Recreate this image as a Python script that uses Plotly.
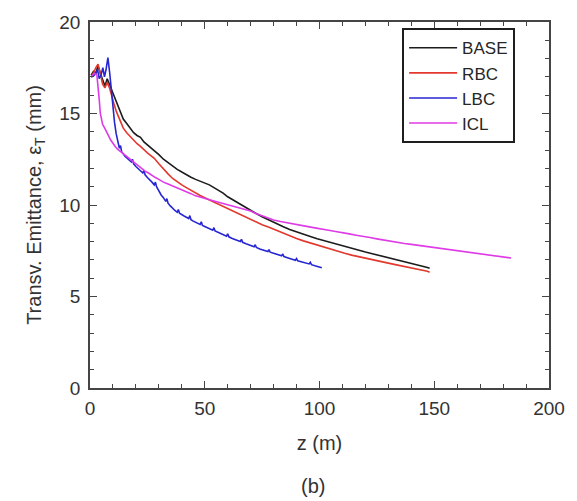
import plotly.graph_objects as go

# Transverse emittance along the line for four configurations
z_base = [0.5, 1.5, 2.5, 3.5, 4.5, 5.5, 6.5, 7.5, 8.5, 9.5,
          10.5, 11.5, 12.5, 13.5, 14.5, 16, 17.5, 19, 20.5, 22,
          23.5, 25, 26.5, 28,
          30, 32, 34, 36, 38, 40, 42, 44, 46, 48,
          50, 52, 54, 56, 58, 60,
          63, 66, 69, 72, 75, 78, 81, 84, 87, 90,
          93, 96, 99, 102, 105, 108, 111, 114, 117, 120,
          123, 126, 129, 132, 135, 138, 141, 144, 147, 148]
eps_base = [17.1, 17.3, 17.2, 17.6, 17.2, 16.8, 16.5, 16.9, 16.6, 16.2,
            16.0, 15.6, 15.3, 15.0, 14.7, 14.45, 14.2, 13.95, 13.8, 13.7,
            13.45, 13.3, 13.15, 13.0,
            12.75, 12.5, 12.3, 12.1, 11.95, 11.8, 11.65, 11.52, 11.4, 11.3,
            11.2, 11.1, 10.95, 10.8, 10.65, 10.45,
            10.22, 9.98, 9.76, 9.56, 9.36, 9.17, 8.98, 8.82, 8.66, 8.52,
            8.4, 8.28, 8.16, 8.05, 7.94, 7.83, 7.72, 7.62, 7.52, 7.43,
            7.34, 7.24, 7.14, 7.05, 6.96, 6.87, 6.78, 6.68, 6.59, 6.55]

z_rbc = [0.5, 1.5, 2.5, 3.5, 4.5, 5.5, 6.5, 7.5, 8.5, 9.5,
         10.5, 11.5, 12.5, 13.5, 14.5, 16, 17.5, 19, 20.5, 22,
         23.5, 25, 26.5, 28,
         30, 32, 34, 36, 38, 40, 42, 44, 46, 48,
         50, 52, 54, 56, 58, 60,
         63, 66, 69, 72, 75, 78, 81, 84, 87, 90,
         93, 96, 99, 102, 105, 108, 111, 114, 117, 120,
         123, 126, 129, 132, 135, 138, 141, 144, 147, 148]
eps_rbc = [17.0, 17.2, 17.5, 17.7, 17.2, 16.6, 16.4, 16.7, 16.4, 15.9,
           15.5, 15.1, 14.8, 14.5, 14.2, 13.95, 13.75, 13.5, 13.35, 13.2,
           13.0, 12.85, 12.7, 12.55,
           12.25, 11.95, 11.7, 11.45, 11.25, 11.1, 10.95, 10.8, 10.65, 10.52,
           10.4, 10.28, 10.15, 10.02, 9.9, 9.78,
           9.6, 9.42, 9.25, 9.08, 8.92, 8.78, 8.62, 8.47, 8.32, 8.17,
           8.04, 7.92, 7.8, 7.68, 7.57, 7.46, 7.36, 7.26, 7.17, 7.08,
           7.0, 6.92, 6.85, 6.77, 6.7, 6.62, 6.54, 6.45, 6.38, 6.33]

z_lbc = [0.5, 1.5, 2.5, 3.3, 4.0, 4.8, 5.6, 6.3, 7.0, 7.8,
         8.6, 9.3, 10.0, 10.7, 11.4, 12.0, 12.8, 13.3, 13.8, 14.5,
         15.3, 16.3, 17.2, 18.0, 18.5, 19.0, 20.0, 21.0, 22.0, 23.0,
         23.5, 24.0, 25.0, 26.0, 27.0, 28.0, 28.5, 29.0, 30.0, 31.0,
         32.0, 33.0, 33.5, 34.0, 35.0, 36.0, 37.0, 38.0, 38.5, 39.0,
         40.0, 41.0, 42.0, 43.0, 43.5, 44.0, 45.0, 46.0, 47.0, 48.0,
         48.5, 49.0, 50.0, 52.0, 53.5, 54.0, 54.5, 56.0, 58.0, 59.5,
         60.0, 60.5, 62.0, 64.0, 65.5, 66.0, 66.5, 68.0, 70.0, 71.5,
         72.0, 72.5, 74.0, 76.0, 77.5, 78.0, 78.5, 80.0, 82.0, 83.5,
         84.0, 84.5, 86.0, 88.0, 89.5, 90.0, 90.5, 92.0, 94.0, 95.5,
         96.0, 96.5, 98.0, 100.0, 101.0]
eps_lbc = [17.0, 17.05, 17.2, 17.4, 16.9, 17.1, 17.5, 17.0, 17.4, 18.05,
           17.2, 16.2, 15.3, 14.5, 13.9, 13.5, 13.1, 13.25, 12.9, 12.8,
           12.65, 12.55, 12.45, 12.35, 12.5, 12.25, 12.1, 12.0, 11.9, 11.75,
           11.9, 11.65, 11.5, 11.4, 11.25, 11.1, 11.25, 11.0, 10.75, 10.55,
           10.4, 10.2, 10.35, 10.1, 9.95, 9.8, 9.7, 9.6, 9.75, 9.55,
           9.45, 9.4, 9.33, 9.26, 9.42, 9.2, 9.12, 9.06, 9.0, 8.94,
           9.08, 8.88, 8.82, 8.7, 8.62, 8.76, 8.58, 8.5, 8.38, 8.3,
           8.43, 8.26, 8.17, 8.07, 8.0, 8.12, 7.96, 7.88, 7.78, 7.72,
           7.83, 7.68, 7.6, 7.52, 7.46, 7.56, 7.42, 7.36, 7.28, 7.22,
           7.32, 7.18, 7.12, 7.04, 6.98, 7.07, 6.95, 6.9, 6.83, 6.78,
           6.87, 6.74, 6.68, 6.6, 6.57]

z_icl = [0.3, 1, 2, 3, 3.5, 4, 4.5, 5, 5.5, 6,
         7, 8, 9, 10, 11, 12, 13, 14, 15, 16.5,
         18, 19.5, 21, 22.5, 24, 25.5, 27, 28.5, 30,
         32, 34, 36, 38, 40, 42, 44, 46, 48, 50,
         52, 54, 56, 58, 60, 62, 64, 66, 68, 70,
         72, 74, 76, 78, 80,
         83, 86, 89, 92, 95, 98, 101, 104, 107, 110,
         113, 116, 119, 122, 125, 128, 131, 134, 137, 140,
         143, 146, 149, 152, 155, 158, 161, 164, 167, 170,
         173, 176, 179, 182, 183.5]
eps_icl = [17.0, 17.1, 17.2, 17.1, 16.6, 15.8, 15.0, 14.6, 14.4, 14.3,
           14.0, 13.8, 13.55, 13.35, 13.2, 13.05, 12.95, 12.85, 12.75, 12.55,
           12.4, 12.25, 12.1, 12.0, 11.85, 11.75, 11.6, 11.5, 11.4,
           11.25, 11.15, 11.05, 10.95, 10.85, 10.75, 10.62, 10.5, 10.42, 10.36,
           10.3, 10.22, 10.15, 10.08, 10.0, 9.93, 9.87, 9.82, 9.74, 9.67,
           9.55, 9.45, 9.35, 9.25, 9.18,
           9.1, 9.02, 8.95, 8.9, 8.82, 8.75, 8.7, 8.62, 8.55, 8.5,
           8.42, 8.35, 8.3, 8.22, 8.15, 8.08, 8.02, 7.97, 7.9, 7.85,
           7.8, 7.75, 7.7, 7.65, 7.6, 7.55, 7.5, 7.45, 7.38, 7.33,
           7.28, 7.22, 7.17, 7.12, 7.1]

series = [
    ("BASE", z_base, eps_base, "#1c1c1c"),
    ("RBC", z_rbc, eps_rbc, "#e2382e"),
    ("LBC", z_lbc, eps_lbc, "#2626d2"),
    ("ICL", z_icl, eps_icl, "#de3be6"),
]

FONT = "Liberation Sans, Arial, sans-serif"
INK = "#333333"
AXIS = "#454545"

fig = go.Figure()
for name, zs, es, color in series:
    fig.add_trace(go.Scatter(x=zs, y=es, mode="lines", name=name,
                             line=dict(color=color, width=1.6)))

axis_common = dict(
    showgrid=False, zeroline=False, showline=True, linecolor=AXIS,
    linewidth=1.5, mirror="ticks", ticks="inside", ticklen=7,
    tickwidth=1.2, tickcolor=AXIS,
    tickfont=dict(family=FONT, size=19, color=INK),
)

fig.update_xaxes(
    range=[0, 200], tick0=0, dtick=50,
    minor=dict(dtick=10, ticks="inside", ticklen=4, tickwidth=1,
               tickcolor=AXIS, showgrid=False),
    title=dict(text="z (m)", font=dict(family=FONT, size=20, color=INK),
               standoff=18),
    ticklabelstandoff=2,
    **axis_common,
)
fig.update_yaxes(
    range=[0, 20], tick0=0, dtick=5,
    minor=dict(dtick=1, ticks="inside", ticklen=4, tickwidth=1,
               tickcolor=AXIS, showgrid=False),
    title=dict(text="Transv. Emittance, ε<sub>T</sub> (mm)",
               font=dict(family=FONT, size=20, color=INK), standoff=12),
    ticklabelstandoff=4,
    **axis_common,
)

fig.add_annotation(text="(b)", xref="paper", yref="paper", x=0.485,
                   y=-0.269, xanchor="center", yanchor="middle",
                   showarrow=False, font=dict(family=FONT, size=20, color=INK))

fig.update_layout(
    width=577, height=501,
    margin=dict(l=90, r=21, t=16, b=113),
    paper_bgcolor="white", plot_bgcolor="white",
    showlegend=True,
    legend=dict(x=0.68, y=0.983, xanchor="left", yanchor="top",
                bgcolor="white", bordercolor="#1e1e1e", borderwidth=2,
                font=dict(family=FONT, size=17, color="#262626"),
                tracegroupgap=0, itemwidth=48),
)

fig.write_html("out.html")
